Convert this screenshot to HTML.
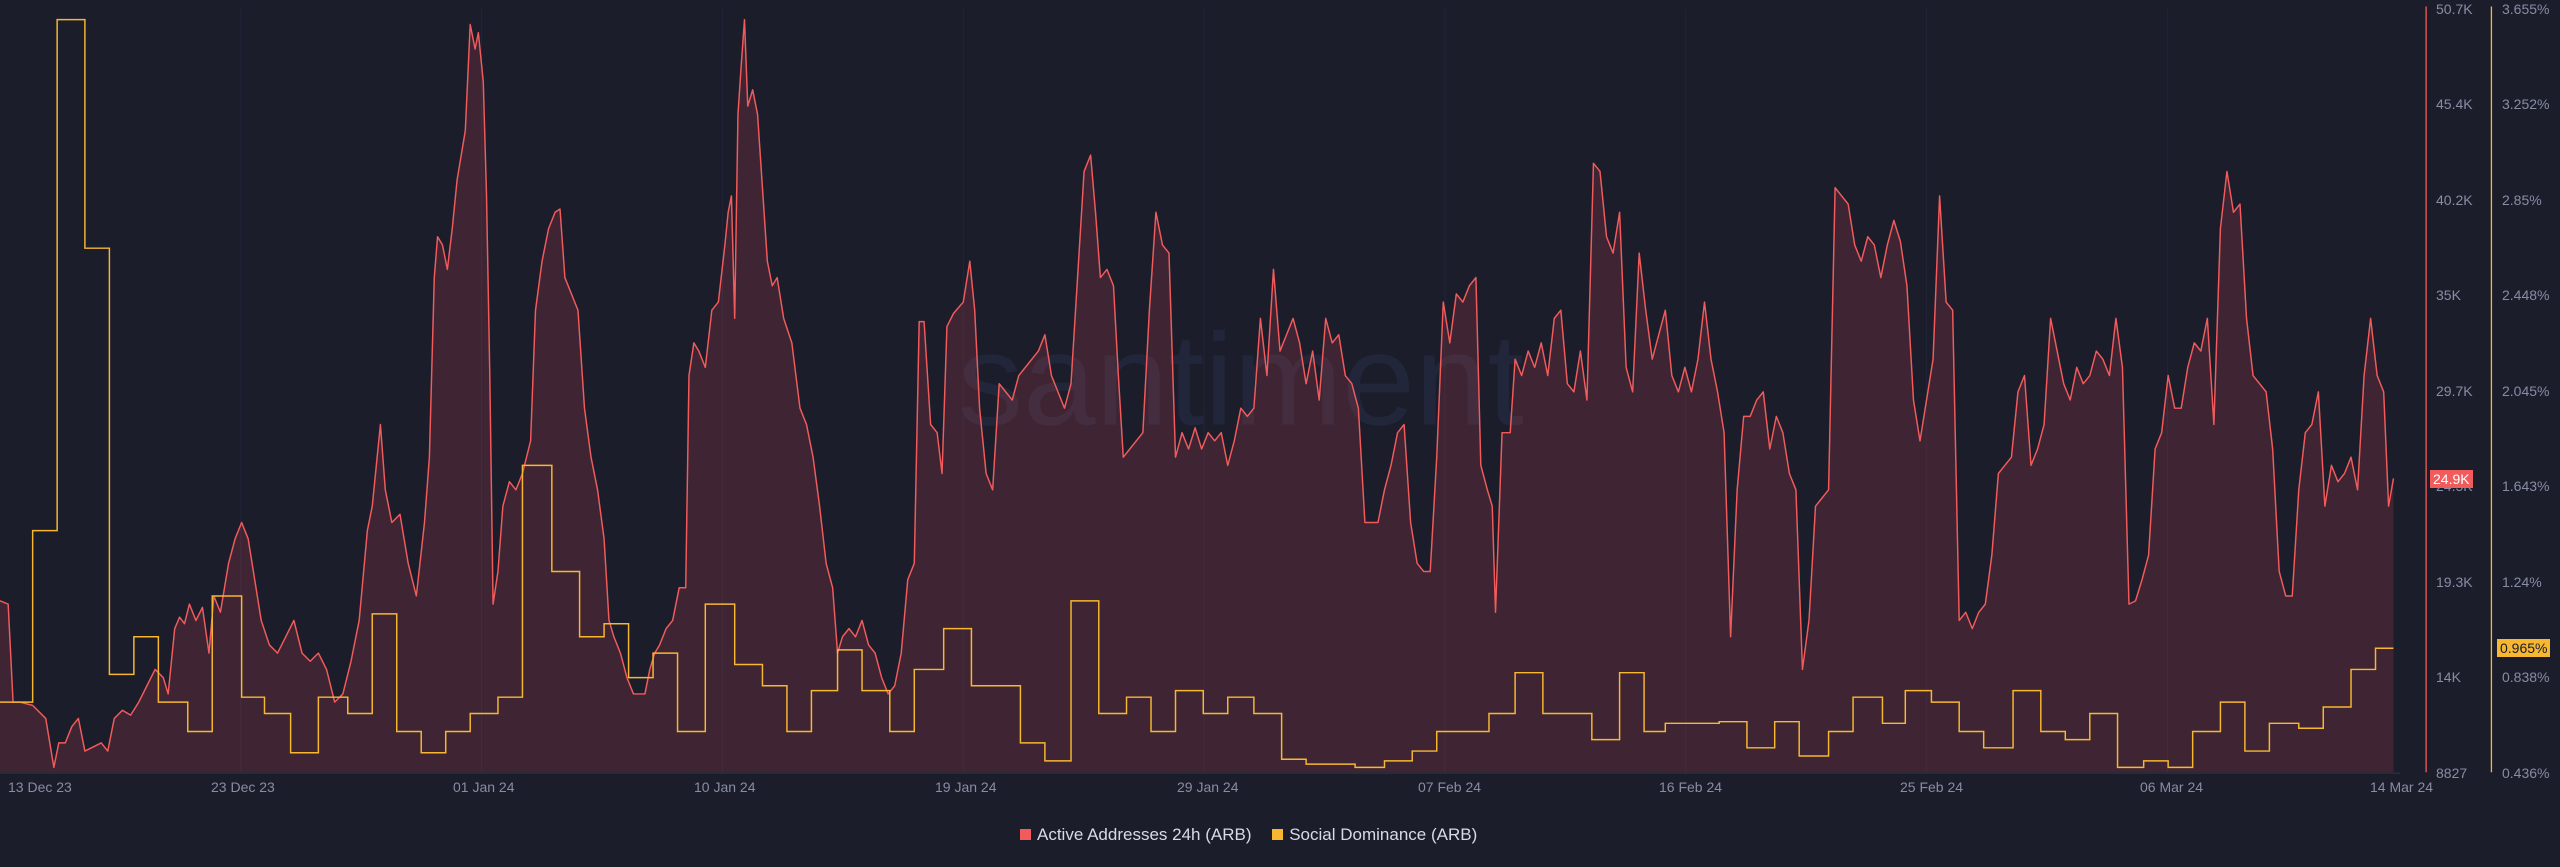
<!DOCTYPE html>
<html><head><meta charset="utf-8"><style>
html,body{margin:0;padding:0;background:#1b1d2b;width:2560px;height:867px;overflow:hidden;font-family:"Liberation Sans",sans-serif}
.l{position:absolute;font-size:14px;color:#878da3;white-space:nowrap}
.ry{position:absolute;left:2436px;font-size:14px;color:#878da3}
.yy{position:absolute;left:2502px;font-size:14px;color:#878da3}
</style></head><body>
<svg width="2560" height="867" viewBox="0 0 1568 531" preserveAspectRatio="none" style="position:absolute;left:0;top:0">
<g stroke="#22263a" stroke-width="0.5">
<line x1="147.5" y1="5" x2="147.5" y2="473"/><line x1="295" y1="5" x2="295" y2="473"/><line x1="442.5" y1="5" x2="442.5" y2="473"/><line x1="590" y1="5" x2="590" y2="473"/><line x1="737.5" y1="5" x2="737.5" y2="473"/><line x1="885" y1="5" x2="885" y2="473"/><line x1="1032.5" y1="5" x2="1032.5" y2="473"/><line x1="1180" y1="5" x2="1180" y2="473"/><line x1="1327.5" y1="5" x2="1327.5" y2="473"/>
</g>
<text x="760" y="260" font-size="80" fill="#22263a" text-anchor="middle" font-family="Liberation Sans">santiment</text>
<path fill="rgba(225,80,90,0.18)" stroke="none" d="M0,368 L5,370 8,430 12,430 20,432 28,440 33,470 36,455 40,455 44,445 48,440 52,460 56,458 62,455 66,460 70,440 75,435 80,438 85,430 90,420 95,410 100,415 103,425 107,385 110,378 113,382 116,370 120,380 124,372 128,400 131,365 135,375 140,345 144,330 148,320 152,330 156,355 160,380 165,395 170,400 175,390 180,380 185,400 190,405 195,400 200,410 205,430 210,425 215,405 220,380 225,325 228,310 233,260 236,300 240,320 245,315 250,345 255,365 260,320 263,280 266,170 268,145 271,150 274,165 277,140 280,110 285,80 288,15 291,30 293,20 296,50 298,120 300,230 302,370 305,350 308,310 312,295 316,300 320,290 325,270 328,190 332,160 336,140 340,130 343,128 346,170 350,180 354,190 358,250 362,280 366,300 370,330 373,380 376,390 380,400 384,415 388,425 392,425 395,425 398,410 401,400 404,395 408,385 412,380 416,360 420,360 422,230 425,210 428,215 432,225 436,190 440,185 444,150 446,130 448,120 450,195 452,70 454,40 456,12 458,65 461,55 464,70 467,115 470,160 473,175 476,170 480,195 485,210 490,250 494,260 498,280 502,310 506,345 510,360 513,400 516,390 520,385 524,390 528,380 532,395 536,400 540,415 544,425 548,420 552,400 556,355 560,345 563,197 566,197 570,260 574,265 577,290 580,200 584,192 590,185 594,160 597,190 600,250 604,290 608,300 612,235 616,240 620,245 624,230 628,225 632,220 636,215 640,205 644,230 648,240 652,250 656,235 660,170 664,105 668,95 671,130 674,170 678,165 682,175 685,230 688,280 692,275 696,270 700,265 704,190 708,130 712,150 716,155 720,280 724,265 728,275 732,262 736,275 740,265 744,270 748,265 752,285 756,270 760,250 764,255 768,250 772,195 776,230 780,165 784,215 788,205 792,195 796,210 800,235 804,215 808,245 812,195 816,210 820,205 824,230 828,235 832,250 836,320 840,320 844,320 848,300 852,285 856,265 860,260 864,320 868,345 872,350 876,350 880,280 884,185 888,210 892,180 896,185 900,175 904,170 907,285 911,300 914,310 916,375 920,265 925,265 928,220 932,230 936,215 940,225 944,210 948,230 952,195 956,190 960,235 964,240 968,215 972,245 976,100 980,105 984,145 988,155 992,130 996,225 1000,240 1004,155 1008,190 1012,220 1016,205 1020,190 1024,230 1028,240 1032,225 1036,240 1040,220 1044,185 1048,220 1052,240 1056,265 1060,390 1064,300 1068,255 1072,255 1076,245 1080,240 1084,275 1088,255 1092,265 1096,290 1100,300 1104,410 1108,380 1112,310 1116,305 1120,300 1124,115 1128,120 1132,125 1136,150 1140,160 1144,145 1148,150 1152,170 1156,150 1160,135 1164,148 1168,175 1172,245 1176,270 1180,245 1184,220 1188,120 1192,185 1196,190 1200,380 1204,375 1208,385 1212,375 1216,370 1220,340 1224,290 1228,285 1232,280 1236,240 1240,230 1244,285 1248,275 1252,260 1256,195 1260,215 1264,235 1268,245 1272,225 1276,235 1280,230 1284,215 1288,220 1292,230 1296,195 1300,225 1304,370 1308,368 1312,355 1316,340 1320,275 1324,265 1328,230 1332,250 1336,250 1340,225 1344,210 1348,215 1352,195 1356,260 1360,140 1364,105 1368,130 1372,125 1376,195 1380,230 1384,235 1388,240 1392,275 1396,350 1400,365 1404,365 1408,300 1412,265 1416,260 1420,240 1424,310 1428,285 1432,295 1436,290 1440,280 1444,300 1448,230 1452,195 1456,230 1460,240 1463,310 1466,293 L1466,473 L0,473 Z"/>
<path fill="none" stroke="#f25b5b" stroke-width="0.9" stroke-linejoin="round" d="M0,368 L5,370 8,430 12,430 20,432 28,440 33,470 36,455 40,455 44,445 48,440 52,460 56,458 62,455 66,460 70,440 75,435 80,438 85,430 90,420 95,410 100,415 103,425 107,385 110,378 113,382 116,370 120,380 124,372 128,400 131,365 135,375 140,345 144,330 148,320 152,330 156,355 160,380 165,395 170,400 175,390 180,380 185,400 190,405 195,400 200,410 205,430 210,425 215,405 220,380 225,325 228,310 233,260 236,300 240,320 245,315 250,345 255,365 260,320 263,280 266,170 268,145 271,150 274,165 277,140 280,110 285,80 288,15 291,30 293,20 296,50 298,120 300,230 302,370 305,350 308,310 312,295 316,300 320,290 325,270 328,190 332,160 336,140 340,130 343,128 346,170 350,180 354,190 358,250 362,280 366,300 370,330 373,380 376,390 380,400 384,415 388,425 392,425 395,425 398,410 401,400 404,395 408,385 412,380 416,360 420,360 422,230 425,210 428,215 432,225 436,190 440,185 444,150 446,130 448,120 450,195 452,70 454,40 456,12 458,65 461,55 464,70 467,115 470,160 473,175 476,170 480,195 485,210 490,250 494,260 498,280 502,310 506,345 510,360 513,400 516,390 520,385 524,390 528,380 532,395 536,400 540,415 544,425 548,420 552,400 556,355 560,345 563,197 566,197 570,260 574,265 577,290 580,200 584,192 590,185 594,160 597,190 600,250 604,290 608,300 612,235 616,240 620,245 624,230 628,225 632,220 636,215 640,205 644,230 648,240 652,250 656,235 660,170 664,105 668,95 671,130 674,170 678,165 682,175 685,230 688,280 692,275 696,270 700,265 704,190 708,130 712,150 716,155 720,280 724,265 728,275 732,262 736,275 740,265 744,270 748,265 752,285 756,270 760,250 764,255 768,250 772,195 776,230 780,165 784,215 788,205 792,195 796,210 800,235 804,215 808,245 812,195 816,210 820,205 824,230 828,235 832,250 836,320 840,320 844,320 848,300 852,285 856,265 860,260 864,320 868,345 872,350 876,350 880,280 884,185 888,210 892,180 896,185 900,175 904,170 907,285 911,300 914,310 916,375 920,265 925,265 928,220 932,230 936,215 940,225 944,210 948,230 952,195 956,190 960,235 964,240 968,215 972,245 976,100 980,105 984,145 988,155 992,130 996,225 1000,240 1004,155 1008,190 1012,220 1016,205 1020,190 1024,230 1028,240 1032,225 1036,240 1040,220 1044,185 1048,220 1052,240 1056,265 1060,390 1064,300 1068,255 1072,255 1076,245 1080,240 1084,275 1088,255 1092,265 1096,290 1100,300 1104,410 1108,380 1112,310 1116,305 1120,300 1124,115 1128,120 1132,125 1136,150 1140,160 1144,145 1148,150 1152,170 1156,150 1160,135 1164,148 1168,175 1172,245 1176,270 1180,245 1184,220 1188,120 1192,185 1196,190 1200,380 1204,375 1208,385 1212,375 1216,370 1220,340 1224,290 1228,285 1232,280 1236,240 1240,230 1244,285 1248,275 1252,260 1256,195 1260,215 1264,235 1268,245 1272,225 1276,235 1280,230 1284,215 1288,220 1292,230 1296,195 1300,225 1304,370 1308,368 1312,355 1316,340 1320,275 1324,265 1328,230 1332,250 1336,250 1340,225 1344,210 1348,215 1352,195 1356,260 1360,140 1364,105 1368,130 1372,125 1376,195 1380,230 1384,235 1388,240 1392,275 1396,350 1400,365 1404,365 1408,300 1412,265 1416,260 1420,240 1424,310 1428,285 1432,295 1436,290 1440,280 1444,300 1448,230 1452,195 1456,230 1460,240 1463,310 1466,293"/>
<path fill="none" stroke="#f7b731" stroke-width="0.9" d="M0,430 H20 V325 H35 V12 H52 V152 H67 V413 H82 V390 H97 V430 H115 V448 H130 V365 H148 V427 H162 V437 H178 V461 H195 V427 H213 V437 H228 V376 H243 V448 H258 V461 H273 V448 H288 V437 H305 V427 H320 V285 H338 V350 H355 V390 H370 V382 H385 V415 H400 V400 H415 V448 H432 V370 H450 V407 H467 V420 H482 V448 H497 V423 H513 V398 H528 V423 H545 V448 H560 V410 H578 V385 H595 V420 H625 V455 H640 V466 H656 V368 H673 V437 H690 V427 H705 V448 H720 V423 H737 V437 H752 V427 H768 V437 H785 V465 H800 V468 H830 V470 H848 V466 H865 V460 H880 V448 H897 V448 H912 V437 H928 V412 H945 V437 H975 V453 H992 V412 H1007 V448 H1020 V443 H1053 V442 H1070 V458 H1087 V442 H1102 V463 H1120 V448 H1135 V427 H1153 V443 H1167 V423 H1183 V430 H1200 V448 H1215 V458 H1233 V423 H1250 V448 H1265 V453 H1280 V437 H1297 V470 H1313 V466 H1328 V470 H1343 V448 H1360 V430 H1375 V460 H1390 V443 H1408 V446 H1423 V433 H1440 V410 H1455 V397 H1466"/>
<line x1="0" y1="473.5" x2="1470" y2="473.5" stroke="#2c3042" stroke-width="0.8"/>
<line x1="1486" y1="4" x2="1486" y2="473" stroke="#f25b5b" stroke-width="0.8"/>
<line x1="1526" y1="4" x2="1526" y2="473" stroke="#f7b731" stroke-width="0.8"/>
</svg>
<div class="ry" style="top:1px">50.7K</div><div class="ry" style="top:96px">45.4K</div><div class="ry" style="top:192px">40.2K</div><div class="ry" style="top:287px">35K</div><div class="ry" style="top:383px">29.7K</div><div class="ry" style="top:478px">24.5K</div><div class="ry" style="top:574px">19.3K</div><div class="ry" style="top:669px">14K</div><div class="ry" style="top:765px">8827</div>
<div style="position:absolute;left:2430px;top:470px;background:#f25b5b;color:#fff;font-size:14px;padding:1px 3px">24.9K</div>
<div class="yy" style="top:1px">3.655%</div><div class="yy" style="top:96px">3.252%</div><div class="yy" style="top:192px">2.85%</div><div class="yy" style="top:287px">2.448%</div><div class="yy" style="top:383px">2.045%</div><div class="yy" style="top:478px">1.643%</div><div class="yy" style="top:574px">1.24%</div><div class="yy" style="top:669px">0.838%</div><div class="yy" style="top:765px">0.436%</div>
<div style="position:absolute;left:2497px;top:639px;background:#f7b731;color:#1b1d2b;font-size:14px;padding:1px 3px">0.965%</div>
<div class="l" style="left:8px;top:779px">13 Dec 23</div>
<div class="l" style="left:211px;top:779px">23 Dec 23</div>
<div class="l" style="left:453px;top:779px">01 Jan 24</div>
<div class="l" style="left:694px;top:779px">10 Jan 24</div>
<div class="l" style="left:935px;top:779px">19 Jan 24</div>
<div class="l" style="left:1177px;top:779px">29 Jan 24</div>
<div class="l" style="left:1418px;top:779px">07 Feb 24</div>
<div class="l" style="left:1659px;top:779px">16 Feb 24</div>
<div class="l" style="left:1900px;top:779px">25 Feb 24</div>
<div class="l" style="left:2140px;top:779px">06 Mar 24</div>
<div class="l" style="left:2370px;top:779px">14 Mar 24</div>
<div style="position:absolute;left:1020px;top:825px;font-size:17px;color:#d8dbe6;white-space:nowrap">
<span style="display:inline-block;width:11px;height:11px;background:#f25b5b;margin-right:6px"></span>Active Addresses 24h (ARB)
<span style="display:inline-block;width:11px;height:11px;background:#f7b731;margin:0 6px 0 16px"></span>Social Dominance (ARB)</div>
</body></html>
